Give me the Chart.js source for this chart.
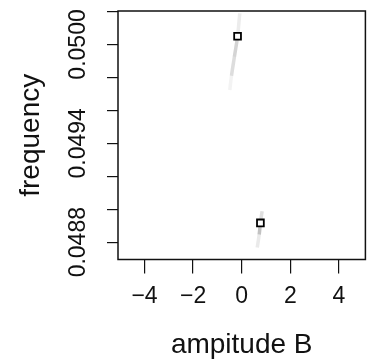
<!DOCTYPE html>
<html>
<head>
<meta charset="utf-8">
<script src="https://cdn.jsdelivr.net/npm/chart.js@4"></script>
<style>
  html, body { margin: 0; padding: 0; background: #fff; overflow: hidden; }
  #wrap { width: 369px; height: 360px; overflow: hidden; }
  canvas { display: block; }
</style>
</head>
<body>
<div id="wrap"><canvas id="c" width="372" height="360"></canvas></div>
<script>
// ---- data ----
const markerX = [-0.17, 0.77];
const markerY = [0.05005, 0.048917];

const topStreakX = [-0.08, -0.17, -0.30, -0.42, -0.49];
const topStreakY = [0.050189, 0.05005, 0.049925, 0.049810, 0.049724];

const bottomStreakX = [0.84, 0.77, 0.72, 0.64];
const bottomStreakY = [0.048988, 0.048917, 0.048847, 0.048768];

const xTickValues = [-4, -2, 0, 2, 4];
const yTickValues = [0.0488, 0.0490, 0.0492, 0.0494, 0.0496, 0.0498, 0.0500, 0.0502];
const yTickLabels = ['0.0488', '', '', '0.0494', '', '', '0.0500', ''];

const xRange = [-5.09, 5.09];
const yRange = [0.048695, 0.050203];

const xTitle = 'ampitude B';
const yTitle = 'frequency';

// ---- build datasets ----
const toPts = (xs, ys) => xs.map((x, i) => ({x: x, y: ys[i]}));
const FONT = '"Liberation Sans", Arial, Helvetica, sans-serif';
const TEXT = '#111';

const frame = {
  id: 'frame',
  afterDatasetsDraw(chart) {
    const a = chart.chartArea, ctx = chart.ctx;
    ctx.save();
    ctx.strokeStyle = '#111';
    ctx.lineWidth = 1.5;
    ctx.strokeRect(a.left, a.top, a.right - a.left, a.bottom - a.top);
    ctx.restore();
  }
};

const topAlpha = [0.12, 0.28, 0.22, 0.08];
const botAlpha = [0.18, 0.35, 0.12];

new Chart(document.getElementById('c'), {
  type: 'scatter',
  data: {
    datasets: [
      {
        data: toPts(markerX, markerY),
        pointStyle: 'rect',
        pointRadius: 4.8,
        pointBorderWidth: 1.8,
        pointBorderColor: '#000',
        pointBackgroundColor: '#fff',
        showLine: false,
        order: 0
      },
      {
        data: toPts(topStreakX, topStreakY),
        showLine: true,
        pointRadius: 0,
        borderWidth: 3.5,
        tension: 0.4,
        borderColor: 'rgba(110,110,110,0.2)',
        segment: { borderColor: c => 'rgba(100,100,100,' + topAlpha[Math.min(c.p0DataIndex, 3)] + ')' },
        order: 1
      },
      {
        data: toPts(bottomStreakX, bottomStreakY),
        showLine: true,
        pointRadius: 0,
        borderWidth: 3.5,
        tension: 0.4,
        borderColor: 'rgba(110,110,110,0.2)',
        segment: { borderColor: c => 'rgba(80,80,80,' + botAlpha[Math.min(c.p0DataIndex, 2)] + ')' },
        order: 1
      }
    ]
  },
  options: {
    responsive: false,
    animation: false,
    events: [],
    layout: { padding: { left: 0, top: 11, right: 1.6, bottom: 0 } },
    plugins: { legend: { display: false }, tooltip: { enabled: false } },
    scales: {
      x: {
        type: 'linear',
        min: xRange[0], max: xRange[1],
        afterBuildTicks: s => { s.ticks = xTickValues.map(v => ({value: v})); },
        afterFit: s => { s.height = 100.5; s.paddingLeft = 0; s.paddingRight = 0; },
        grid: { display: true, drawOnChartArea: false, drawTicks: true, tickLength: 14, color: '#111', lineWidth: 1.2 },
        border: { display: false },
        ticks: {
          autoSkip: false, maxRotation: 0, minRotation: 0, padding: 9,
          color: TEXT, font: { family: FONT, size: 23 },
          callback: v => (v < 0 ? '\u2212' + Math.abs(v) : String(v))
        },
        title: { display: true, text: xTitle, color: TEXT, font: { family: FONT, size: 28 }, padding: { top: 0, bottom: -2 } }
      },
      y: {
        type: 'linear',
        min: yRange[0], max: yRange[1],
        afterBuildTicks: s => { s.ticks = yTickValues.map(v => ({value: v})); },
        afterFit: s => { s.width = 118; s.paddingTop = 0; s.paddingBottom = 0; },
        grid: { display: true, drawOnChartArea: false, drawTicks: true, tickLength: 11, color: '#111', lineWidth: 1.2 },
        border: { display: false },
        ticks: {
          autoSkip: false, minRotation: 90, maxRotation: 90, crossAlign: 'center', padding: -7,
          color: TEXT, font: { family: FONT, size: 23 },
          callback: (v, i) => yTickLabels[i]
        },
        title: { display: true, text: yTitle, color: TEXT, font: { family: FONT, size: 28 }, padding: { top: 14, bottom: 0 } }
      }
    }
  },
  plugins: [frame]
});
</script>
</body>
</html>
